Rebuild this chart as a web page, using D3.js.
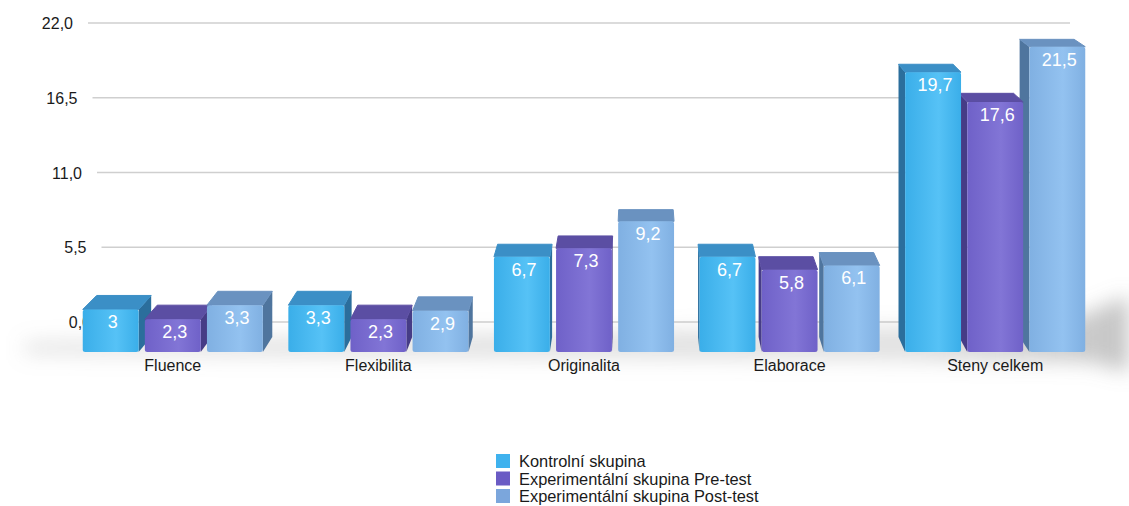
<!DOCTYPE html>
<html>
<head>
<meta charset="utf-8">
<script src="https://cdn.jsdelivr.net/npm/d3@7"></script>
<style>
  html, body { margin: 0; padding: 0; background: #fff; }
  svg { display: block; font-family: "Liberation Sans", Arial, Helvetica, sans-serif; }
</style>
</head>
<body>
<svg id="chart" width="1129" height="506"></svg>
<script>
// ---- data ----
const categories = ["Fluence", "Flexibilita", "Originalita", "Elaborace", "Steny celkem"];
const seriesNames = ["Kontrolní skupina", "Experimentální skupina Pre-test", "Experimentální skupina Post-test"];
const kontrolni = [3, 3.3, 6.7, 6.7, 19.7];
const preTest   = [2.3, 2.3, 7.3, 5.8, 17.6];
const postTest  = [3.3, 2.9, 9.2, 6.1, 21.5];
const yTicks = [0, 5.5, 11, 16.5, 22];

const seriesValues = [kontrolni, preTest, postTest];
const palette = [
  { front0: "#3aaee9", front1: "#56c2f6", top: "#3b8fc6", side: "#2b6e9c", legend: "#3fb2ee" },
  { front0: "#6f61c8", front1: "#8275d6", top: "#5b4ea3", side: "#463c86", legend: "#6a5bc4" },
  { front0: "#80b0e2", front1: "#93c2f0", top: "#6a92c0", side: "#4f759e", legend: "#7ba6dc" }
];

const svg = d3.select("#chart");
const defs = svg.append("defs");

// ---- scales ----
const x0 = d3.scaleBand().domain(categories).range([70, 1098]).paddingInner(0.124).paddingOuter(0.062);
const x1 = d3.scaleBand().domain(d3.range(seriesNames.length)).range([0, x0.bandwidth()]).paddingInner(0.1);
const yBack = d3.scaleLinear().domain([0, 22]).range([322, 23]);     // back (grid) plane
const yFront = d3.scaleLinear().domain([0, 22]).range([352, 39.6]);  // front plane of bars
const gridStart = d3.scaleLinear().domain([0, 22]).range([106, 88]);
const gridEnd = 1070;

// perspective toward vanishing point
const V = { x: 640, y: -248 }, S = 0.975;
const back = p => [V.x + (p[0] - V.x) * S, V.y + (p[1] - V.y) * S];

// ---- filters / gradients ----
const blur = defs.append("filter").attr("id", "blur").attr("x", "-20%").attr("y", "-100%").attr("width", "140%").attr("height", "300%");
blur.append("feGaussianBlur").attr("stdDeviation", 10);
const sg = defs.append("linearGradient").attr("id", "shadowGrad").attr("x1", 0).attr("x2", 1).attr("y1", 0).attr("y2", 0);
sg.append("stop").attr("offset", "0%").attr("stop-color", "#9a9a9a").attr("stop-opacity", 0.3);
sg.append("stop").attr("offset", "80%").attr("stop-color", "#9a9a9a").attr("stop-opacity", 0.3);
sg.append("stop").attr("offset", "100%").attr("stop-color", "#8a8a8a").attr("stop-opacity", 0.5);
palette.forEach((c, i) => {
  const g = defs.append("linearGradient").attr("id", "fg" + i).attr("x1", 0).attr("x2", 1).attr("y1", 0).attr("y2", 0);
  g.append("stop").attr("offset", "0%").attr("stop-color", c.front0);
  g.append("stop").attr("offset", "60%").attr("stop-color", c.front1);
  g.append("stop").attr("offset", "100%").attr("stop-color", c.front0);
});

// ---- grid ----
const grid = svg.append("g");
grid.selectAll("line").data(yTicks).join("line")
  .attr("x1", d => gridStart(d)).attr("x2", gridEnd)
  .attr("y1", d => yBack(d)).attr("y2", d => yBack(d))
  .attr("stroke", "#cfcfcf").attr("stroke-width", 1.5);
grid.selectAll("text").data(yTicks).join("text")
  .attr("x", d => gridStart(d) - 15).attr("y", d => yBack(d) + 6)
  .attr("text-anchor", "end").attr("font-size", 16).attr("fill", "#1a1a1a")
  .text(d => d3.format(".1f")(d).replace(".", ","));

// ---- floor shadow ----
svg.append("path")
  .attr("d", "M25,342 L1060,324 L1129,296 L1129,372 L1090,362 L25,354 Z")
  .attr("fill", "url(#shadowGrad)").attr("filter", "url(#blur)");

// ---- bars ----
const bars = [];
categories.forEach((cat, ci) => {
  seriesValues.forEach((vals, si) => {
    const xl = x0(cat) + x1(si), xr = xl + x1.bandwidth();
    const yt = yFront(vals[ci]), yb = yFront(0);
    bars.push({ ci, si, v: vals[ci], xl, xr, yt, yb, cx: (xl + xr) / 2 });
  });
});
bars.sort((a, b) => Math.abs(b.cx - V.x) - Math.abs(a.cx - V.x));

const gBars = svg.append("g");
const poly = pts => "M" + pts.map(p => p.join(",")).join("L") + "Z";
bars.forEach(b => {
  const c = palette[b.si];
  const g = gBars.append("g");
  const FTL = [b.xl, b.yt], FTR = [b.xr, b.yt], FBL = [b.xl, b.yb], FBR = [b.xr, b.yb];
  const BTL = back(FTL), BTR = back(FTR), BBL = back(FBL), BBR = back(FBR);
  if (b.xr < V.x) {
    g.append("path").attr("d", poly([FTR, BTR, BBR, FBR])).attr("fill", c.side);
  } else if (b.xl > V.x) {
    g.append("path").attr("d", poly([FTL, BTL, BBL, FBL])).attr("fill", c.side);
  }
  g.append("path").attr("d", poly([FTL, FTR, BTR, BTL])).attr("fill", c.top)
    .attr("stroke", c.top).attr("stroke-width", 1).attr("stroke-linejoin", "round");
  g.append("rect").attr("x", b.xl).attr("y", b.yt).attr("width", b.xr - b.xl).attr("height", b.yb - b.yt)
    .attr("rx", 2.5).attr("fill", `url(#fg${b.si})`);
  g.append("text").attr("x", b.cx + 2).attr("y", b.yt + 19)
    .attr("text-anchor", "middle").attr("font-size", 18).attr("fill", "#ffffff")
    .text(String(b.v).replace(".", ","));
});

// ---- category labels ----
svg.append("g").selectAll("text").data(categories).join("text")
  .attr("x", d => x0(d) + x0.bandwidth() / 2).attr("y", 371)
  .attr("text-anchor", "middle").attr("font-size", 16).attr("fill", "#1a1a1a")
  .text(d => d);

// ---- legend ----
const legend = svg.append("g").attr("transform", "translate(496,454)");
const lg = legend.selectAll("g").data(seriesNames).join("g")
  .attr("transform", (d, i) => `translate(0,${i * 17.5})`);
lg.append("rect").attr("width", 14).attr("height", 14).attr("fill", (d, i) => palette[i].legend);
lg.append("text").attr("x", 23).attr("y", 13).attr("font-size", 16.4).attr("fill", "#1a1a1a").text(d => d);
</script>
</body>
</html>
